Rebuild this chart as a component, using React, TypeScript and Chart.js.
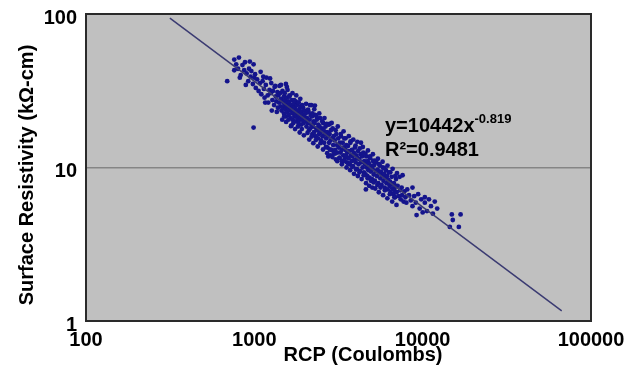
import React, { useEffect, useRef } from "react";
import { Chart, registerables } from "chart.js";

Chart.register(...registerables);

// Axis tick values
const xTickValues = [100, 1000, 10000, 100000];
const yTickValues = [1, 10, 100];

// Power-law trend line end points (y = 10442 x^-0.819)
const trendRcp = [315, 67000];
const trendResistivity = [93.9, 1.165];

const equationText = "y=10442x";
const equationExponent = "-0.819";
const rSquaredText = "R\u00B2=0.9481";

const xAxisTitle = "RCP (Coulombs)";
const yAxisTitle = "Surface Resistivity (k\u03A9-cm)";

// Measured points: [RCP (Coulombs), Surface Resistivity (kΩ-cm)]
const measuredPoints: [number, number][] = [
  // ~700-1000
  [690, 36.5], [760, 50.5], [760, 43], [780, 47], [800, 44], [810, 52], [820, 38.5], [830, 40],
  [850, 46.5], [870, 43], [880, 48.5], [890, 34.5], [900, 41], [920, 36.5], [930, 44], [940, 49],
  [950, 39], [960, 42.5], [980, 35], [990, 47], [990, 18.2], [1000, 38.5],
  // 1000-1400
  [1010, 40.5], [1020, 33], [1040, 37.5], [1060, 31.5], [1080, 35.5], [1090, 42], [1100, 30],
  [1120, 36.5], [1140, 32.5], [1150, 28.5], [1170, 34.5], [1180, 38.5], [1200, 29.5], [1210, 26.5],
  [1230, 32], [1250, 30.5], [1260, 35.5], [1280, 27.5], [1290, 31.5], [1310, 25.5], [1320, 33.5],
  [1340, 29], [1350, 27], [1370, 31], [1380, 24.5], [1390, 29.5], [1400, 26.5], [1410, 34],
  // 1400-2000
  [1420, 30.5], [1430, 25], [1440, 28], [1450, 23.5], [1460, 27], [1470, 31.5], [1480, 24.5],
  [1490, 26.5], [1500, 29], [1500, 22.5], [1510, 25.5], [1520, 27.5], [1530, 24], [1540, 21.5],
  [1540, 35], [1550, 26], [1560, 28.5], [1560, 33.5], [1570, 23], [1580, 25], [1590, 27],
  [1600, 22], [1600, 24.5], [1610, 26.5], [1620, 29.5], [1630, 23.5], [1640, 21], [1650, 18.6],
  [1650, 25.5], [1660, 24], [1670, 27.5], [1680, 22.5], [1690, 20.5], [1700, 25], [1710, 23],
  [1720, 26], [1730, 21.5], [1740, 24.5], [1750, 22], [1760, 27], [1770, 20], [1780, 23.5],
  [1790, 25.5], [1800, 21], [1810, 23], [1820, 26.5], [1830, 19.5], [1840, 22], [1850, 24],
  [1860, 20.5], [1870, 22.5], [1880, 25], [1890, 21], [1900, 19], [1910, 23], [1920, 20.5],
  [1940, 22], [1950, 24.5], [1960, 19.5], [1980, 21.5], [1990, 23.5], [2000, 20],
  // 2000-3000
  [2020, 22.5], [2040, 18.5], [2060, 21], [2080, 19.5], [2100, 23], [2110, 17.5], [2130, 20.5],
  [2150, 18], [2160, 22], [2180, 19], [2180, 25.5], [2200, 21.5], [2210, 16.5], [2230, 18.5],
  [2250, 20], [2260, 17], [2280, 19.5], [2290, 25.3], [2300, 22], [2310, 16], [2330, 18],
  [2350, 20.5], [2370, 17.5], [2390, 15.5], [2400, 19], [2420, 16.5], [2440, 18.5], [2460, 21],
  [2480, 17], [2500, 15], [2520, 18], [2540, 16], [2560, 19.5], [2580, 17.5], [2600, 14.5],
  [2620, 16.5], [2650, 18.5], [2670, 15.5], [2700, 17], [2720, 13.5], [2740, 16], [2750, 11.8],
  [2760, 19], [2780, 14.5], [2800, 16.5], [2800, 19.2], [2830, 15], [2850, 17.5], [2850, 12],
  [2870, 13], [2900, 15.5], [2920, 18], [2940, 14], [2960, 16], [2980, 12.5], [3000, 15],
  // 3000-4500
  [3020, 13], [3050, 11.3], [3070, 16.5], [3100, 14], [3120, 12.5], [3150, 15.5], [3170, 13.5],
  [3200, 11.5], [3220, 14.5], [3250, 12.5], [3270, 16], [3300, 13], [3320, 11], [3350, 14.5],
  [3380, 12], [3400, 13.5], [3420, 15.5], [3450, 11.5], [3480, 13], [3500, 12], [3520, 14],
  [3550, 10.8], [3570, 12.5], [3600, 13.8], [3630, 11.5], [3660, 12.8], [3690, 10.5], [3720, 14.5],
  [3750, 12], [3780, 11], [3800, 13], [3830, 11.8], [3860, 10.2], [3900, 12.5], [3930, 11.2],
  [3960, 13.5], [4000, 10.8], [4030, 12], [4060, 9.8], [4100, 11.5], [4130, 12.8], [4160, 10.5],
  [4200, 11.3], [4240, 9.5], [4280, 12.2], [4300, 14.5], [4320, 10.8], [4360, 11.8], [4400, 10],
  [4440, 12.5], [4480, 9.3], [4500, 11],
  // 4500-7000
  [4550, 10.5], [4580, 9], [4600, 7.2], [4620, 11.8], [4650, 10], [4690, 8.8], [4720, 11],
  [4760, 9.6], [4800, 10.6], [4840, 8.6], [4880, 11.5], [4920, 9.4], [4960, 10.2], [5000, 8.4],
  [5040, 9.8], [5080, 11], [5120, 9], [5160, 10.4], [5200, 8.2], [5250, 9.5], [5300, 10.8],
  [5350, 8.8], [5400, 9.7], [5450, 7.9], [5500, 9.2], [5550, 10.3], [5600, 8.5], [5650, 9.4],
  [5700, 7.7], [5750, 8.9], [5800, 10], [5850, 8.2], [5900, 9.1], [5950, 7.4], [6000, 8.6],
  [6050, 9.6], [6100, 7.9], [6150, 8.8], [6200, 7.2], [6250, 8.3], [6300, 9.3], [6350, 7.6],
  [6400, 8.1], [6450, 6.9], [6500, 7.8], [6550, 8.7], [6600, 7.3], [6700, 6.7], [6750, 7.9],
  [6800, 7.1], [6850, 6.4], [6900, 7.5], [6950, 8.4], [7000, 6.9],
  // 7000-12500
  [7100, 7.6], [7200, 6.5], [7300, 8.7], [7350, 7.1], [7400, 6.2], [7500, 7.4], [7550, 6.6],
  [7600, 8.9], [7700, 6.0], [7800, 7.0], [7900, 6.4], [8000, 5.9], [8100, 7.2], [8300, 6.6],
  [8500, 6.1], [8700, 5.6], [8700, 7.4], [8900, 6.5], [9100, 5.9], [9200, 4.9], [9400, 6.7],
  [9600, 5.4], [9800, 6.2], [10000, 5.1], [10300, 5.9], [10300, 6.4], [10600, 5.2], [10900, 6.2],
  [11200, 5.6], [11500, 5.0], [11800, 6.0], [12200, 5.4],
  // far-right group
  [14500, 4.1], [14900, 4.95], [15100, 4.55], [16400, 4.1], [16800, 4.95],
  // upper edge of the band
  [1130, 39], [1240, 38], [1330, 34], [1440, 34.5], [1515, 30.5], [1575, 32], [1615, 29],
  [1685, 30.5], [1725, 27.5], [1775, 29.5], [1835, 26.5], [1875, 28], [1925, 25.5], [2030, 26],
  [2085, 23.8], [2140, 25.5], [2215, 22.5], [2270, 24], [2340, 21.5], [2430, 22.5], [2530, 20],
  [2610, 21], [2690, 19.2], [2880, 19.5], [3040, 17.5], [3130, 18.5], [3260, 16.5], [3390, 17.2],
  [3480, 15.5], [3640, 16], [3730, 14.8], [3870, 15.2], [3990, 13.9], [4090, 14.7], [4230, 13.3],
  [4410, 13.6], [4570, 12.3], [4730, 12.9], [4860, 11.8], [5060, 12.2], [5170, 11.1], [5420, 11.4],
  [5520, 10.5], [5780, 10.9], [5930, 9.9], [6180, 10.3], [6420, 9.3], [6630, 9.8], [6880, 8.8],
  [7040, 9.2],
  // lower edge of the band
  [1160, 26.5], [1270, 23.5], [1360, 23], [1465, 20.5], [1505, 21.5], [1545, 19.8], [1595, 20.5],
  [1660, 18.8], [1705, 19.5], [1745, 17.8], [1815, 18.5], [1860, 16.9], [1915, 17.8], [1970, 16.2],
  [2070, 16.8], [2120, 15.2], [2190, 15.9], [2240, 14.4], [2320, 15.1], [2380, 13.7], [2470, 14.4],
  [2560, 13.1], [2660, 13.6], [2710, 12.4], [2810, 13.1], [2910, 11.7], [3010, 12.3], [3110, 11.0],
  [3210, 11.6], [3310, 10.5], [3430, 11.0], [3530, 10.0], [3610, 10.6], [3710, 9.6], [3820, 10.1],
  [3910, 9.1], [4020, 9.7], [4120, 8.8], [4210, 9.3], [4340, 8.4], [4460, 8.9], [4610, 7.9],
  [4710, 8.5], [4810, 7.6], [4930, 8.2], [5020, 7.4], [5110, 8.0], [5230, 7.3], [5380, 7.7],
  [5490, 6.9], [5620, 7.4], [5820, 6.6], [5960, 7.1], [6170, 6.3], [6380, 6.7], [6590, 6.0],
  [6790, 6.4], [6990, 5.7],
];

const FONT = "'Liberation Sans', Arial, sans-serif";

export default function App() {
  const canvasRef = useRef<HTMLCanvasElement | null>(null);

  useEffect(() => {
    const canvas = canvasRef.current;
    if (!canvas) return;

    const plotDecor = {
      id: "plotDecor",
      beforeDraw(chart: any) {
        const { ctx, chartArea: a } = chart;
        ctx.save();
        ctx.fillStyle = "#ffffff";
        ctx.fillRect(0, 0, chart.width, chart.height);
        ctx.fillStyle = "#c0c0c0";
        ctx.fillRect(a.left, a.top, a.right - a.left, a.bottom - a.top);
        ctx.restore();
      },
      afterDraw(chart: any) {
        const { ctx, chartArea: a } = chart;
        ctx.save();
        ctx.strokeStyle = "#2a2a2a";
        ctx.lineWidth = 2;
        ctx.strokeRect(a.left, a.top, a.right - a.left, a.bottom - a.top);

        ctx.fillStyle = "#000000";
        ctx.textBaseline = "alphabetic";
        ctx.textAlign = "left";
        ctx.font = `bold 20px ${FONT}`;
        const ex = 385;
        ctx.fillText(equationText, ex, 132);
        const w = ctx.measureText(equationText).width;
        ctx.font = `bold 13px ${FONT}`;
        ctx.fillText(equationExponent, ex + w, 123);
        ctx.font = `bold 20px ${FONT}`;
        ctx.fillText(rSquaredText, ex, 156);

        ctx.textAlign = "center";
        ctx.textBaseline = "middle";
        ctx.fillText(xAxisTitle, 363, 355);

        ctx.translate(27, 175);
        ctx.rotate(-Math.PI / 2);
        ctx.fillText(yAxisTitle, 0, 0);
        ctx.restore();
      },
    };

    const chart = new Chart(canvas, {
      type: "scatter",
      data: {
        datasets: [
          {
            label: "Trend",
            data: trendRcp.map((x, i) => ({ x, y: trendResistivity[i] })),
            showLine: true,
            borderColor: "#3b3b72",
            borderWidth: 1.5,
            pointRadius: 0,
            fill: false,
          },
          {
            label: "Data",
            data: measuredPoints.map(([x, y]) => ({ x, y })),
            backgroundColor: "#14148c",
            borderColor: "#14148c",
            borderWidth: 0,
            pointRadius: 2.4,
          },
        ],
      },
      options: {
        animation: false,
        responsive: false,
        devicePixelRatio: 1,
        layout: { padding: { top: 14, right: 34, left: 0, bottom: 0 } },
        plugins: {
          legend: { display: false },
          tooltip: { enabled: false },
        },
        scales: {
          x: {
            type: "logarithmic",
            min: 100,
            max: 100000,
            afterBuildTicks: (scale: any) => {
              scale.ticks = xTickValues.map((v) => ({ value: v }));
            },
            afterFit: (scale: any) => {
              scale.height = 46;
              scale.paddingLeft = 0;
              scale.paddingRight = 0;
            },
            grid: { display: false, drawTicks: false },
            border: { display: false },
            ticks: {
              autoSkip: false,
              maxRotation: 0,
              padding: 7,
              color: "#000000",
              font: { family: FONT, size: 20, weight: "bold" },
              callback: (v: any) => String(v),
            },
          },
          y: {
            type: "logarithmic",
            min: 1,
            max: 100,
            afterBuildTicks: (scale: any) => {
              scale.ticks = yTickValues.map((v) => ({ value: v }));
            },
            afterFit: (scale: any) => {
              scale.width = 86;
              scale.paddingTop = 0;
              scale.paddingBottom = 0;
            },
            grid: {
              drawTicks: false,
              lineWidth: 1.5,
              color: (ctx: any) => (ctx.tick && ctx.tick.value === 10 ? "#858585" : "rgba(0,0,0,0)"),
            },
            border: { display: false },
            ticks: {
              autoSkip: false,
              padding: 9,
              labelOffset: 4,
              color: "#000000",
              font: { family: FONT, size: 20, weight: "bold" },
              callback: (v: any) => String(v),
            },
          },
        },
      },
      plugins: [plotDecor],
    });

    return () => chart.destroy();
  }, []);

  return (
    <div style={{ position: "fixed", left: 0, top: 0, width: 625, height: 367, background: "#ffffff" }}>
      <canvas ref={canvasRef} width={625} height={367} />
    </div>
  );
}
